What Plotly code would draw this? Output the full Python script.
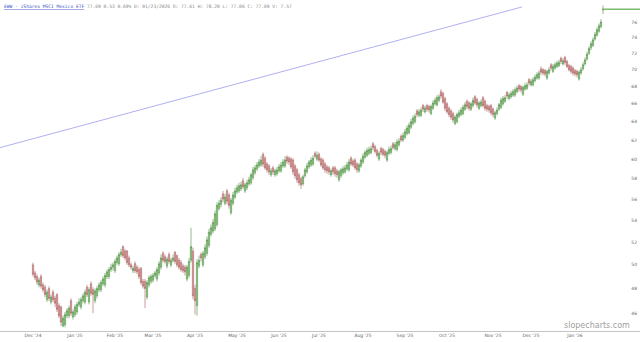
import math
import plotly.graph_objects as go

# ---------------- data ----------------
opens = [
50.0,49.3,49.0,48.3,49.0,48.3,48.1,47.1,48.0,46.9,
47.7,47.2,47.5,46.6,46.5,45.0,45.1,45.8,45.8,47.0,
45.7,45.9,46.1,46.7,46.5,47.0,46.9,48.1,46.9,48.4,
47.9,47.0,47.4,47.9,47.9,48.4,48.3,49.0,49.0,49.6,
49.8,49.5,50.2,50.1,50.9,51.6,51.2,51.2,50.6,50.0,
49.5,50.1,49.8,49.6,49.7,48.6,48.6,47.3,48.3,48.6,
48.7,49.1,48.8,49.3,49.8,51.0,50.7,49.9,50.9,50.0,
50.4,51.1,50.8,50.4,50.2,49.9,49.8,48.8,49.1,50.4,
51.2,48.0,46.6,49.9,50.9,50.0,50.7,51.0,51.7,52.7,
53.0,53.2,53.6,55.1,55.5,56.5,55.6,56.8,56.4,54.7,
55.6,56.2,56.7,56.8,57.0,57.8,56.8,57.1,57.5,57.6,
58.1,58.6,59.0,59.3,59.4,60.5,60.1,59.5,59.3,58.4,
59.1,58.4,58.5,58.8,58.8,59.3,59.3,60.2,60.1,60.0,
59.9,59.3,58.9,58.4,58.0,57.5,58.3,58.7,59.2,59.4,
59.5,60.6,60.0,60.5,60.0,59.9,59.5,59.2,59.1,58.4,
59.1,59.1,58.8,57.9,58.3,58.6,58.7,59.0,58.9,60.1,
59.8,59.9,59.5,58.8,59.3,59.7,60.2,60.4,60.6,60.7,
61.6,61.3,60.9,60.0,61.1,61.0,60.8,59.9,60.6,60.7,
61.6,61.1,61.0,61.5,62.4,62.0,62.3,62.7,62.8,63.4,
63.8,64.0,65.2,64.7,64.7,65.8,65.1,65.8,65.7,64.9,
65.5,66.0,65.9,66.4,67.4,67.2,66.6,66.0,65.5,65.2,
64.9,63.8,64.0,64.6,64.8,64.9,65.4,66.3,66.1,65.4,
65.8,66.8,66.5,65.5,65.8,66.7,66.3,65.8,65.7,65.8,
65.4,64.4,64.9,65.4,65.6,66.0,66.3,67.3,66.6,66.8,
67.0,67.0,67.4,68.1,68.0,67.1,67.7,67.8,68.8,68.2,
68.2,68.7,69.0,69.0,70.1,70.0,69.9,69.0,69.6,70.6,
69.8,70.2,70.4,70.5,71.4,70.7,71.5,71.0,70.5,70.4,
70.2,69.9,69.8,68.9,69.6,70.1,70.7,71.3,72.0,72.7,
73.0,73.8,74.3,74.8,75.4,77.61,
]
highs = [
50.2,49.5,49.2,48.9,49.2,48.5,48.3,47.9,48.2,47.5,
47.9,47.4,47.6,46.8,46.6,45.8,46.1,46.4,46.6,47.2,
46.3,46.7,46.9,47.2,47.3,47.6,47.9,48.3,48.1,48.6,
48.1,48.0,48.2,48.5,48.7,49.0,49.3,49.6,49.8,50.1,
50.2,50.5,50.8,51.1,51.4,51.7,51.4,51.3,50.8,50.2,
49.9,50.3,50.0,49.8,49.8,48.8,48.8,48.7,49.1,49.2,
49.3,49.5,49.8,50.3,50.9,51.2,50.9,50.7,51.1,50.6,
50.9,51.2,50.9,50.6,50.4,50.1,50.0,50.0,50.6,53.3,
51.5,48.3,50.5,50.8,51.1,51.2,51.8,52.5,53.2,53.6,
54.1,54.9,55.7,55.9,56.2,56.8,56.5,57.0,56.6,56.1,
56.7,57.1,57.4,57.6,57.7,58.1,57.6,57.9,58.2,58.6,
59.2,59.4,59.7,60.0,60.3,60.7,60.3,59.7,59.5,59.1,
59.3,59.0,59.2,59.5,59.7,60.0,60.3,60.4,60.3,60.2,
60.1,59.5,59.1,58.6,58.2,58.4,59.1,59.6,59.9,60.2,
60.4,60.8,60.8,60.7,60.2,60.1,59.7,59.4,59.3,59.0,
59.3,59.3,59.0,58.9,59.1,59.3,59.4,59.7,60.0,60.3,
60.0,60.1,59.7,59.6,60.1,60.6,60.9,61.2,61.3,61.4,
61.8,61.5,61.1,60.8,61.3,61.2,61.0,60.9,61.3,61.4,
61.8,61.8,62.1,62.2,62.6,62.8,63.2,63.6,63.9,64.3,
64.7,64.9,65.4,65.4,65.6,66.0,65.8,66.0,65.9,65.9,
66.4,66.7,67.0,67.1,67.7,67.4,66.8,66.2,65.7,65.4,
65.1,64.7,65.0,65.3,65.6,65.9,66.2,66.5,66.3,66.2,
66.7,67.0,66.7,66.3,66.5,66.9,66.5,66.0,65.9,66.0,
65.6,65.2,65.6,66.1,66.7,66.9,67.0,67.5,67.3,67.5,
67.7,67.9,68.1,68.3,68.2,68.1,68.4,68.5,69.0,68.9,
69.1,69.4,69.7,69.9,70.4,70.2,70.1,70.0,70.3,70.8,
70.7,70.9,71.1,71.2,71.6,71.4,71.7,71.2,70.7,70.6,
70.4,70.1,70.0,69.9,70.3,70.9,71.5,72.2,72.9,73.5,
74.0,74.7,75.3,75.8,76.4,78.20,
]
lows = [
49.0,48.7,48.3,48.1,48.0,47.7,47.3,46.9,47.0,46.7,
46.9,46.5,46.1,45.6,45.0,44.9,44.9,45.6,45.6,45.8,
45.5,45.7,45.9,46.5,46.3,46.8,46.7,47.3,46.7,47.4,
46.0,46.8,47.2,47.7,47.7,48.2,48.1,48.8,48.8,49.4,
49.5,49.3,50.0,49.9,50.7,50.6,50.4,50.0,49.8,49.6,
49.3,49.3,49.2,48.8,48.3,48.0,46.4,47.1,48.1,48.4,
48.5,48.9,48.6,49.1,49.6,50.2,50.1,49.7,50.1,49.8,
50.2,50.1,49.8,49.6,49.4,49.3,49.1,48.6,48.9,50.2,
47.1,45.9,45.8,49.7,50.3,49.8,50.5,50.8,51.5,52.5,
52.8,53.0,53.4,54.9,55.2,55.7,55.4,55.5,55.1,54.5,
55.4,56.0,56.5,56.6,56.8,57.0,56.6,56.9,57.3,57.4,
57.9,58.4,58.8,59.1,59.2,59.2,58.9,58.6,58.4,58.2,
58.4,58.2,58.3,58.6,58.6,59.1,59.1,59.5,59.4,59.0,
58.4,58.0,57.6,57.3,57.0,57.3,58.1,58.5,59.0,59.2,
59.3,60.1,59.8,59.7,59.2,58.9,58.6,58.5,58.4,58.2,
58.4,58.2,58.1,57.7,58.1,58.4,58.5,58.8,58.7,59.3,
59.2,58.9,58.6,58.6,59.1,59.5,60.0,60.2,60.4,60.5,
60.9,60.6,60.2,59.8,60.4,60.3,60.1,59.7,60.4,60.5,
61.0,60.9,60.8,61.3,61.8,61.8,62.1,62.5,62.6,63.2,
63.6,63.8,64.5,64.5,64.5,65.1,64.9,65.1,65.0,64.7,
65.3,65.8,65.7,66.2,66.6,66.0,65.2,64.9,64.5,64.2,
63.9,63.6,63.8,64.4,64.6,64.7,65.2,65.4,65.2,65.2,
65.6,65.9,65.6,65.3,65.6,65.6,65.2,65.1,65.0,64.7,
64.5,64.2,64.7,65.2,65.4,65.8,66.1,66.6,66.4,66.6,
66.8,66.8,67.2,67.4,67.3,66.9,67.5,67.6,68.1,68.0,
68.0,68.5,68.8,68.8,69.4,69.3,69.2,68.8,69.4,69.9,
69.6,70.0,70.2,70.3,70.7,70.5,70.6,70.2,69.8,69.5,
69.3,69.2,69.1,68.7,69.4,69.9,70.5,71.1,71.8,72.4,
72.8,73.6,74.1,74.6,75.2,77.06,
]
closes = [
49.2,48.9,48.55,48.7,48.2,47.9,47.5,47.7,47.2,47.3,
47.1,46.8,46.3,45.8,45.3,45.6,45.9,46.2,46.4,46.0,
46.1,46.5,46.7,46.9,47.1,47.4,47.7,47.5,47.9,47.6,
47.5,47.8,48.0,48.3,48.5,48.8,49.1,49.4,49.6,49.8,
50.0,50.3,50.6,50.9,51.1,50.8,50.6,50.2,50.0,49.8,
49.7,49.5,49.4,49.0,48.5,48.2,48.0,48.5,48.9,49.0,
49.1,49.3,49.6,50.1,50.6,50.4,50.3,50.5,50.3,50.4,
50.6,50.3,50.0,49.8,49.6,49.5,49.4,49.8,50.3,51.6,
47.4,47.0,50.2,50.4,50.6,51.0,51.5,52.2,52.9,53.3,
53.8,54.6,55.4,55.6,55.9,56.0,56.2,55.8,55.4,55.9,
56.4,56.8,57.1,57.3,57.4,57.2,57.4,57.6,57.9,58.4,
58.9,59.1,59.4,59.7,59.9,59.5,59.1,58.9,58.7,58.8,
58.7,58.8,58.9,59.2,59.4,59.7,59.9,59.8,59.7,59.2,
58.7,58.3,57.9,57.6,57.4,58.2,58.9,59.3,59.7,59.9,
60.1,60.3,60.4,59.9,59.4,59.1,58.9,58.8,58.7,58.8,
58.7,58.5,58.4,58.7,58.9,59.0,59.1,59.4,59.7,59.5,
59.4,59.1,58.9,59.4,59.9,60.3,60.7,60.9,61.0,61.1,
61.2,60.8,60.4,60.6,60.7,60.5,60.4,60.7,61.0,61.1,
61.2,61.5,61.8,61.9,62.0,62.5,62.9,63.3,63.6,64.0,
64.4,64.6,64.8,65.1,65.3,65.4,65.5,65.4,65.3,65.7,
66.1,66.4,66.7,66.8,66.9,66.2,65.5,65.1,64.8,64.5,
64.2,64.5,64.8,65.0,65.3,65.6,65.9,65.7,65.5,66.0,
66.4,66.1,65.9,66.1,66.2,65.8,65.5,65.4,65.3,65.0,
64.8,65.0,65.3,65.9,66.4,66.6,66.7,66.9,67.0,67.2,
67.4,67.6,67.8,67.7,67.6,67.9,68.1,68.2,68.4,68.6,
68.8,69.1,69.4,69.6,69.7,69.6,69.5,69.8,70.0,70.2,
70.4,70.6,70.8,70.9,71.0,71.1,70.9,70.4,70.0,69.8,
69.6,69.5,69.4,69.7,70.0,70.6,71.2,71.9,72.6,73.2,
73.7,74.4,75.0,75.5,76.0,77.69,
]

month_idx = [0, 21, 41, 60, 81, 102, 123, 143, 165, 186, 207, 230, 249, 271]
month_labels = ["Dec '24", "Jan '25", "Feb '25", "Mar '25", "Apr '25", "May '25", "Jun '25",
                "Jul '25", "Aug '25", "Sep '25", "Oct '25", "Nov '25", "Dec '25", "Jan '26"]
price_ticks = [46, 48, 50, 52, 54, 56, 58, 60, 62, 64, 66, 68, 70, 72, 74, 76]

trend_x = [-16.5, 244.5]
trend_y = [61.2, 78.0]
last_price = 77.69

title_name = "EWW - iShares MSCI Mexico ETF"
title_info = "77.69 0.53 0.69% D: 01/23/2026 O: 77.61 H: 78.20 L: 77.06 C: 77.69 V: 7.57"

n = len(closes)
xs = list(range(n))

fig = go.Figure()
fig.add_trace(go.Candlestick(
    x=xs, open=opens, high=highs, low=lows, close=closes,
    increasing=dict(line=dict(color="#4a8a40", width=0.6), fillcolor="#a2de92"),
    decreasing=dict(line=dict(color="#a45c5c", width=0.6), fillcolor="#f0a8a8"),
    whiskerwidth=0, showlegend=False, hoverinfo="skip",
))
fig.add_trace(go.Scatter(
    x=trend_x, y=trend_y, mode="lines",
    line=dict(color="#7a7ae6", width=0.6), showlegend=False, hoverinfo="skip",
))
fig.add_trace(go.Scatter(
    x=[n - 1, n + 20], y=[last_price, last_price], mode="lines",
    line=dict(color="#7dba6c", width=1.6), showlegend=False, hoverinfo="skip",
))

fig.update_layout(
    width=640, height=342,
    margin=dict(l=0, r=0, t=0, b=11),
    paper_bgcolor="white", plot_bgcolor="white",
    boxgap=0.1,
    xaxis=dict(
        range=[-16.5, 303.5], tickvals=month_idx, ticktext=month_labels,
        tickfont=dict(size=4.5, color="#666", family="DejaVu Sans"),
        showgrid=False, zeroline=False, showline=True, linecolor="#c4c4c4",
        ticks="", rangeslider=dict(visible=False), fixedrange=True,
    ),
    yaxis=dict(
        type="log", side="right",
        range=[math.log10(44.61), math.log10(78.94)],
        tickvals=price_ticks, ticktext=[str(v) for v in price_ticks],
        ticklabelposition="inside",
        tickfont=dict(size=4.5, color="#666", family="DejaVu Sans"),
        showgrid=False, zeroline=False, showline=False, ticks="",
    ),
    annotations=[
        dict(
            xref="paper", yref="paper", x=0.003, y=1.0, xanchor="left", yanchor="top",
            yshift=-2, showarrow=False, align="left",
            text=("<span style='color:#3a4fc8'><u>" + title_name + "</u></span> "
                  "<span style='color:#888'>" + title_info + "</span>"),
            font=dict(size=4.6, family="DejaVu Sans Mono", color="#888"),
        ),
        dict(
            xref="paper", yref="paper", x=0.988, y=0.018, xanchor="right", yanchor="middle",
            showarrow=False, text="slopecharts.com",
            font=dict(size=8, family="DejaVu Sans", color="#a0a0a0"),
        ),
    ],
)

fig.write_html("out.html")
